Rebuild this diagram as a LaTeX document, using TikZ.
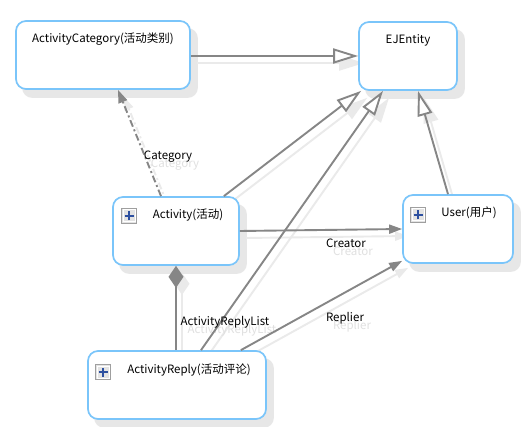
\documentclass[tikz,border=0pt]{standalone}
\usepackage{fontspec}
\setmainfont{Noto Sans CJK SC}
\usetikzlibrary{arrows.meta,calc}
\definecolor{boxblue}{RGB}{122,197,250}
\definecolor{linegray}{RGB}{134,134,134}
\definecolor{shadowgray}{RGB}{231,231,231}
\definecolor{lineshadow}{RGB}{234,234,234}
\definecolor{textshadow}{RGB}{224,224,224}
\definecolor{plusblue}{RGB}{45,80,160}
\pgfdeclarelayer{bg}
\pgfsetlayers{bg,main}
\begin{document}
\begin{tikzpicture}[x=1pt,y=-1pt,
  font=\fontsize{11.5pt}{13pt}\selectfont,
  entity/.style={draw=boxblue, line width=1.7pt, rounded corners=10pt, fill=white,
    inner sep=0pt, minimum height=68pt},
  title/.style={inner sep=1pt, text=black},
  lbl/.style={inner sep=1pt, text=black},
  lblshadow/.style={inner sep=1pt, text=textshadow},
  plusicon/.style={draw=gray!75, fill=gray!22, line width=1pt, minimum size=15pt, inner sep=0pt,
    path picture={
      \draw[white, line width=1pt] ([shift={(1.5pt,-1.5pt)}]path picture bounding box.north west) rectangle ([shift={(-1.5pt,1.5pt)}]path picture bounding box.south east);
      \draw[plusblue, line width=2.2pt] ([xshift=-4.5pt]path picture bounding box.center) -- ([xshift=4.5pt]path picture bounding box.center);
      \draw[plusblue, line width=2.2pt] ([yshift=-4.5pt]path picture bounding box.center) -- ([yshift=4.5pt]path picture bounding box.center);
    }},
  gen/.style={draw=linegray, line width=1.9pt, -{Triangle[length=25pt,width=15pt,fill=white]}},
  genshadow/.style={draw=lineshadow, line width=1.9pt, -{Triangle[length=25pt,width=15pt,fill=lineshadow]}},
  assoc/.style={draw=linegray, line width=1.9pt, -{Triangle[length=13pt,width=9pt]}},
  assocshadow/.style={draw=lineshadow, line width=1.9pt, -{Triangle[length=13pt,width=9pt]}},
  comp/.style={draw=linegray, line width=1.9pt, {Diamond[length=22pt,width=15pt]}-},
  compshadow/.style={draw=lineshadow, line width=1.9pt, {Diamond[length=22pt,width=15pt]}-},
  dashdot/.style={dash pattern=on 7pt off 3pt on 2pt off 3pt},
  boxshadow/.style={fill=shadowgray, rounded corners=10pt}
]
\useasboundingbox (0,0) rectangle (529,427);

% boxes
\node[entity, minimum width=174pt] (ac) at (103,55) {};
\node[entity, minimum width=98pt] (ej) at (408,56) {};
\node[entity, minimum width=126pt] (act) at (176,231) {};
\node[entity, minimum width=178pt] (rep) at (177,385) {};
\node[entity, minimum width=110pt] (usr) at (458,229) {};

% titles
\node[title] (acT) at (103,39) {ActivityCategory(活动类别)};
\node[title] (ejT) at (408,40) {EJEntity};
\node[title] (actT) at (188,215) {Activity(活动)};
\node[title] (repT) at (189,370) {ActivityReply(活动评论)};
\node[title] (usrT) at (469,213) {User(用户)};

% icons
\node[plusicon] (actI) at (129,216) {};
\node[plusicon] (repI) at (103,372) {};
\node[plusicon] (usrI) at (418,215) {};

% shadows
\begin{pgfonlayer}{bg}
\fill[white] (0,0) rectangle (529,427);
\foreach \b in {ac,ej,act,rep,usr}
  \fill[boxshadow] ([shift={(7,8)}]\b.north west) rectangle ([shift={(7,8)}]\b.south east);
\draw[genshadow] ([shift={(6,7)}]ac.east |- ej.west) -- ([shift={(6,7)}]ej.west);
\draw[genshadow] ([shift={(-10,7)}]act.north east) -- ([shift={(9,7)}]ej.south west);
\draw[genshadow] ([shift={(30,7)}]rep.north) -- ([shift={(-19,7)}]ej.south);
\draw[genshadow] ([shift={(-4,7)}]usr.north) -- ([shift={(16,7)}]ej.south);
\draw[assocshadow] ([shift={(6,7)}]act.east) -- ([shift={(6,7)}]usr.west);
\draw[assocshadow] ([shift={(-20,7)}]rep.north east) -- ([shift={(6,4)}]usr.south west);
\draw[assocshadow, dashdot] ([shift={(-9,7)}]act.north) -- ([shift={(21,7)}]ac.south);
\draw[compshadow] ([shift={(6,7)}]act.south) -- ([shift={(6,7)}]act.south |- rep.north);
\end{pgfonlayer}

% label shadows
\node[lblshadow] (catS) at (175,165) {Category};
\node[lblshadow] (creS) at (353,251) {Creator};
\node[lblshadow] (repS) at (352,326) {Replier};
\node[lblshadow] (listS) at (232,330) {ActivityReplyList};

% connectors
\draw[gen] (ac.east |- ej.west) -- (ej.west);
\draw[gen] ([xshift=-16pt]act.north east) -- ([xshift=3pt]ej.south west);
\draw[gen] ([xshift=24pt]rep.north) -- ([xshift=-25pt]ej.south);
\draw[gen] ([xshift=-10pt]usr.north) -- ([xshift=10pt]ej.south);
\draw[assoc] (act.east) -- (usr.west);
\draw[assoc] ([xshift=-26pt]rep.north east) -- ([yshift=3pt]usr.south west);
\draw[assoc, dashdot] ([xshift=-15pt]act.north) -- ([xshift=15pt]ac.south);
\draw[comp] (act.south) -- (act.south |- rep.north);

% labels
\node[lbl] (cat) at (168,157) {Category};
\node[lbl] (cre) at (346,243) {Creator};
\node[lbl] (repl) at (345,318) {Replier};
\node[lbl] (list) at (225,322) {ActivityReplyList};
\end{tikzpicture}
\end{document}
